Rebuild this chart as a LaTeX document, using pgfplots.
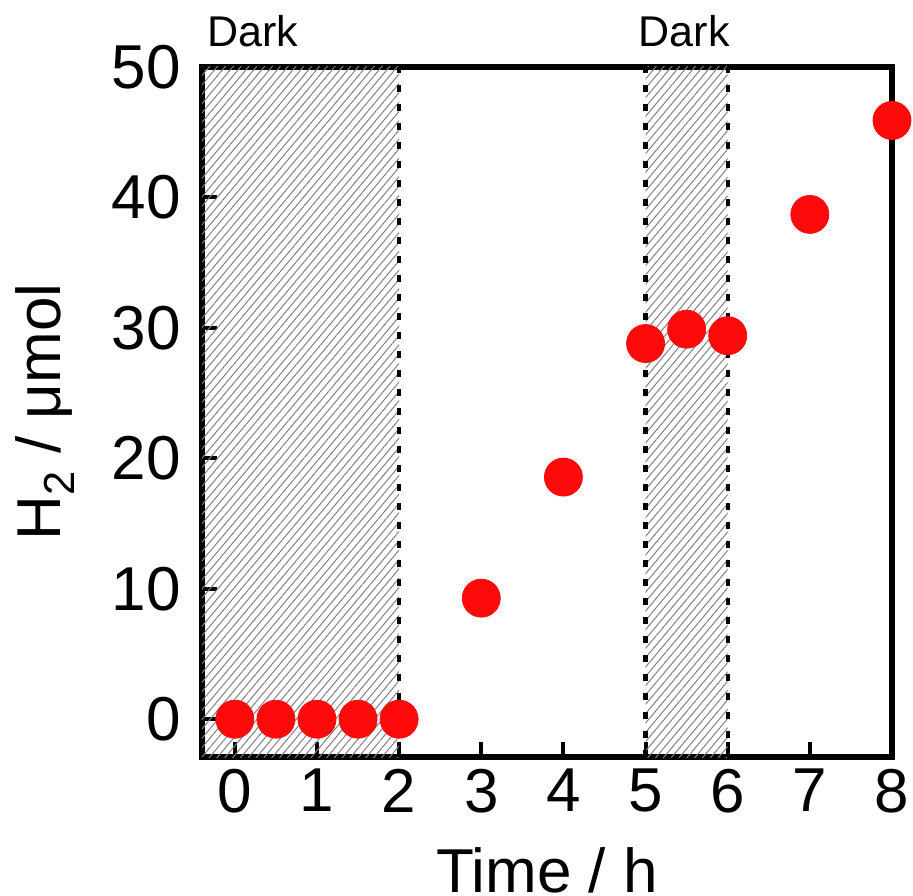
\documentclass[border=0pt]{standalone}
\usepackage{fontspec}
\setmainfont{Liberation Sans}
\usepackage{pgfplots}
\pgfplotsset{compat=1.18}
\usetikzlibrary{patterns.meta}
\begin{document}
\begin{tikzpicture}
\begin{axis}[
  name=ax,
  scale only axis,
  width=345pt, height=345pt,
  xmin=-0.4, xmax=8, ymin=-2.9, ymax=50,
  xtick={0,1,...,8}, ytick={0,10,...,50},
  tick align=inside, tick pos=left,
  major tick length=7.5pt,
  every tick/.style={line width=2pt, black},
  axis line style={line width=3pt},
  /pgf/number format/assume math mode=true,
  ticklabel style={font=\fontsize{31}{36}\selectfont},
  xticklabel style={yshift=-2.5pt},
  yticklabel style={xshift=-7pt},
  label style={font=\fontsize{31}{36}\selectfont, inner sep=0pt},
  xlabel={Time / h},
  ylabel={H\textsubscript{2} / μmol},
  xlabel style={at={(axis description cs:0.5,-0.197)}, anchor=base},
  ylabel style={at={(axis description cs:-0.2275,0.5)}, anchor=center},
  clip=false,
]
\addplot[draw=none, pattern={Lines[angle=50,distance=3pt,line width=0.5pt]}, pattern color=gray]
  coordinates {(-0.4,-2.9) (-0.4,50) (2,50) (2,-2.9)} -- cycle;
\addplot[draw=none, pattern={Lines[angle=50,distance=3pt,line width=0.5pt]}, pattern color=gray]
  coordinates {(5,-2.9) (5,50) (6,50) (6,-2.9)} -- cycle;
\addplot[black, line width=2.2pt, dash pattern=on 3.5pt off 6pt] coordinates {(2,-2.9) (2,50)};
\addplot[black, line width=2.2pt, dash pattern=on 3.5pt off 6pt] coordinates {(5,-2.9) (5,50)};
\addplot[black, line width=2.2pt, dash pattern=on 3.5pt off 6pt] coordinates {(6,-2.9) (6,50)};
\addplot[only marks, mark=*, mark size=9.5pt, color={rgb,255:red,255;green,10;blue,10}, mark options={draw=none}]
  coordinates {(0,0) (0.5,0) (1,0) (1.5,0) (2,0) (3,9.28) (4,18.56) (5,28.8) (5.5,29.9) (6,29.4) (7,38.7) (8,45.9)};
\node[anchor=base, inner sep=0pt, font=\fontsize{21.5}{25}\selectfont] at (axis cs:0.22,51.6) {Dark};
\node[anchor=base, inner sep=0pt, font=\fontsize{21.5}{25}\selectfont] at (axis cs:5.47,51.6) {Dark};
\end{axis}
\pgfresetboundingbox
\path ([shift={(-101pt,-69pt)}]ax.south west) rectangle ([shift={(10.5pt,33.5pt)}]ax.north east);
\end{tikzpicture}
\end{document}
